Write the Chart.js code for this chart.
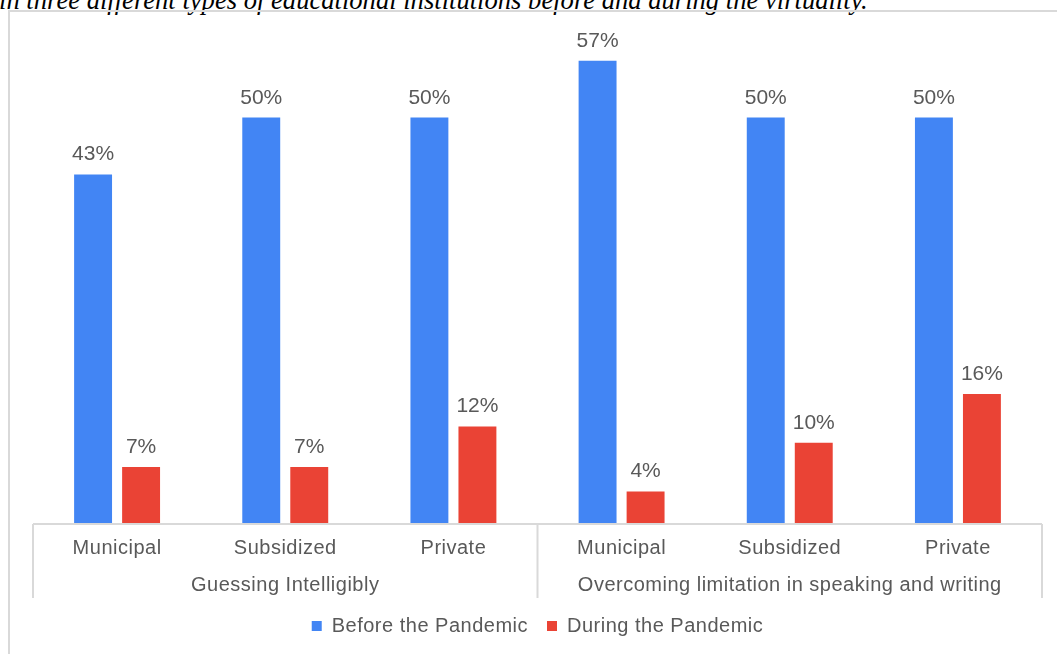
<!DOCTYPE html>
<html>
<head>
<meta charset="utf-8">
<script src="https://cdn.jsdelivr.net/npm/chart.js@4"></script>
<style>
  html, body { margin: 0; padding: 0; background: #fff; overflow: hidden; }
  #caption {
    position: absolute; left: -1px; top: -15px; white-space: nowrap; line-height: 26px;
    font: italic 26.6px "Liberation Serif", serif; color: #000;
  }
  #frame {
    position: absolute; left: 8px; top: 10px; width: 1100px; height: 700px;
    border-left: 2px solid #d9d9d9; border-top: 2px solid #d9d9d9;
  }
  #wrap { position: absolute; left: 0; top: 0; width: 1057px; height: 654px; }
</style>
</head>
<body>
<div id="caption">in three different types of educational institutions before and during the virtuality.</div>
<div id="frame"></div>
<div id="wrap"><canvas id="chart"></canvas></div>
<script>
const institutions = ['Municipal', 'Subsidized', 'Private', 'Municipal', 'Subsidized', 'Private'];
const groups = ['Guessing Intelligibly', 'Overcoming limitation in speaking and writing'];
const beforePandemic = [43, 50, 50, 57, 50, 50];
const duringPandemic = [7, 7, 12, 4, 10, 16];

const textColor = '#595959';
const lineColor = '#d9d9d9';
const fontFamily = '"Liberation Sans", Arial, sans-serif';

// the exported chart has slightly spaced-out axis text
const spacing = {
  id: 'spacing',
  beforeUpdate(chart) { chart.ctx.letterSpacing = '0.5px'; },
  beforeLayout(chart) { chart.ctx.letterSpacing = '0.5px'; },
  beforeDraw(chart) { chart.ctx.letterSpacing = '0.5px'; }
};

// values above bars
const valueLabels = {
  id: 'valueLabels',
  afterDatasetsDraw(chart) {
    const ctx = chart.ctx;
    ctx.save();
    ctx.letterSpacing = '0px';
    ctx.font = '21px ' + fontFamily;
    ctx.fillStyle = textColor;
    ctx.textAlign = 'center';
    ctx.textBaseline = 'alphabetic';
    chart.data.datasets.forEach((ds, i) => {
      chart.getDatasetMeta(i).data.forEach((bar, j) => {
        ctx.fillText(ds.data[j] + '%', bar.x, bar.y - 14);
      });
    });
    ctx.restore();
  }
};

// axis line and group separators
const groupLines = {
  id: 'groupLines',
  afterDraw(chart) {
    const ctx = chart.ctx;
    const area = chart.chartArea;
    const x = chart.scales.x;
    const x2 = chart.scales.x2;
    const per = institutions.length / groups.length;
    const step = x.getPixelForValue(1) - x.getPixelForValue(0);
    ctx.save();
    ctx.strokeStyle = lineColor;
    ctx.lineWidth = 2;
    ctx.beginPath();
    ctx.moveTo(area.left, area.bottom);
    ctx.lineTo(area.right, area.bottom);
    for (let g = 0; g <= groups.length; g++) {
      const px = x.getPixelForValue(g * per) - step / 2;
      ctx.moveTo(px, area.bottom);
      ctx.lineTo(px, x2.top + 31);
    }
    ctx.stroke();
    ctx.restore();
  }
};

const ctx = document.getElementById('chart').getContext('2d');
new Chart(ctx, {
  type: 'bar',
  data: {
    labels: institutions,
    datasets: [{
      label: 'Before the Pandemic',
      data: beforePandemic,
      backgroundColor: '#4285f4',
      categoryPercentage: 0.571,
      barPercentage: 0.79
    }, {
      label: 'During the Pandemic',
      data: duringPandemic,
      backgroundColor: '#ea4335',
      categoryPercentage: 0.571,
      barPercentage: 0.79
    }]
  },
  options: {
    responsive: true,
    maintainAspectRatio: false,
    animation: false,
    layout: { padding: { left: 33, right: 15, top: 20, bottom: 8 } },
    scales: {
      y: { display: false, min: 0, max: 62 },
      x: {
        grid: { display: false, drawTicks: false },
        border: { display: false },
        ticks: {
          color: textColor,
          padding: 12,
          font: { family: fontFamily, size: 20 }
        },
        afterFit(scale) { scale.height = 43; }
      },
      x2: {
        type: 'category',
        position: 'bottom',
        labels: groups,
        grid: { display: false, drawTicks: false },
        border: { display: false },
        ticks: {
          color: textColor,
          padding: 6,
          font: { family: fontFamily, size: 20 }
        },
        afterFit(scale) { scale.height = 30; }
      }
    },
    plugins: {
      tooltip: { enabled: false },
      legend: {
        position: 'bottom',
        labels: {
          color: textColor,
          boxWidth: 10,
          boxHeight: 10,
          padding: 19,
          font: { family: fontFamily, size: 20 }
        }
      }
    }
  },
  plugins: [spacing, valueLabels, groupLines]
});
</script>
</body>
</html>
